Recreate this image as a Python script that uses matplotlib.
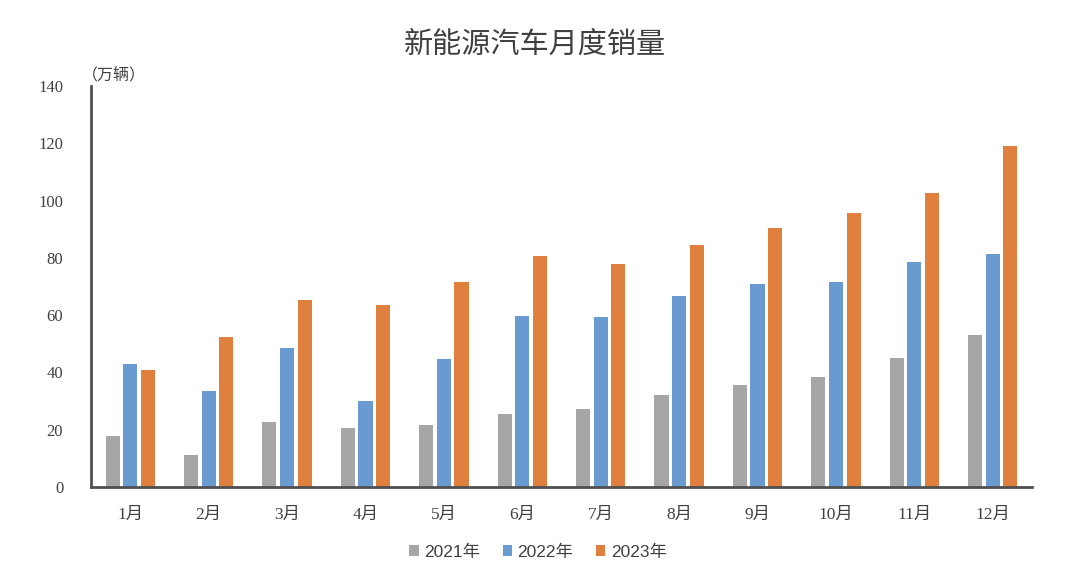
import matplotlib.pyplot as plt
import numpy as np

months = ['1月', '2月', '3月', '4月', '5月', '6月', '7月', '8月', '9月', '10月', '11月', '12月']
sales_2021 = [17.9, 11.0, 22.6, 20.6, 21.7, 25.6, 27.1, 32.1, 35.7, 38.3, 45.0, 53.1]
sales_2022 = [43.1, 33.4, 48.4, 29.9, 44.7, 59.6, 59.3, 66.6, 70.8, 71.4, 78.6, 81.4]
sales_2023 = [40.8, 52.5, 65.3, 63.6, 71.7, 80.6, 78.0, 84.6, 90.4, 95.6, 102.6, 119.1]
years = ['2021年', '2022年', '2023年']
colors = ['#A6A6A6', '#6A9BD0', '#E0803F']

plt.rcParams['font.family'] = ['Liberation Serif', 'Noto Sans CJK SC', 'DejaVu Sans']

fig = plt.figure(figsize=(10.76, 5.76), dpi=100)
ax = fig.add_axes([91 / 1076, 1 - 487 / 576, (1032 - 91) / 1076, (487 - 86) / 576])

x = np.arange(len(months))
w = 0.18
off = 0.225
for i, (vals, lab, c) in enumerate(zip([sales_2021, sales_2022, sales_2023], years, colors)):
    ax.bar(x + (i - 1) * off, vals, width=w, color=c, label=lab)

ax.set_xlim(-0.5, len(months) - 0.5)
ax.set_ylim(0, 140)
ax.set_yticks(range(0, 141, 20))
ax.set_xticks(x)
ax.set_xticklabels(months)
ax.tick_params(length=0, colors='#404040')
ax.tick_params(axis='x', labelsize=12.5, pad=14)
ax.tick_params(axis='y', labelsize=12, pad=20)

for s in ['top', 'right']:
    ax.spines[s].set_visible(False)
for s in ['left', 'bottom']:
    ax.spines[s].set_color('#505050')
    ax.spines[s].set_linewidth(2)

fig.text(535 / 1076, 1 - 45 / 576, '新能源汽车月度销量', ha='center', va='center',
         fontsize=21, color='#404040', family=['Noto Sans CJK SC'])
fig.text(82 / 1076, 1 - 75 / 576, '（万辆）', ha='left', va='center',
         fontsize=11.5, color='#404040', family=['Noto Sans CJK SC'])

ax.legend(loc='center', bbox_to_anchor=(0.475, -0.162), ncol=3, frameon=False,
          prop={'family': ['Liberation Sans', 'Noto Sans CJK SC'], 'size': 12.5},
          handlelength=0.55, handleheight=0.55, columnspacing=1.3,
          handletextpad=0.3, labelcolor='#404040')

fig.savefig('out.png', dpi=100)
